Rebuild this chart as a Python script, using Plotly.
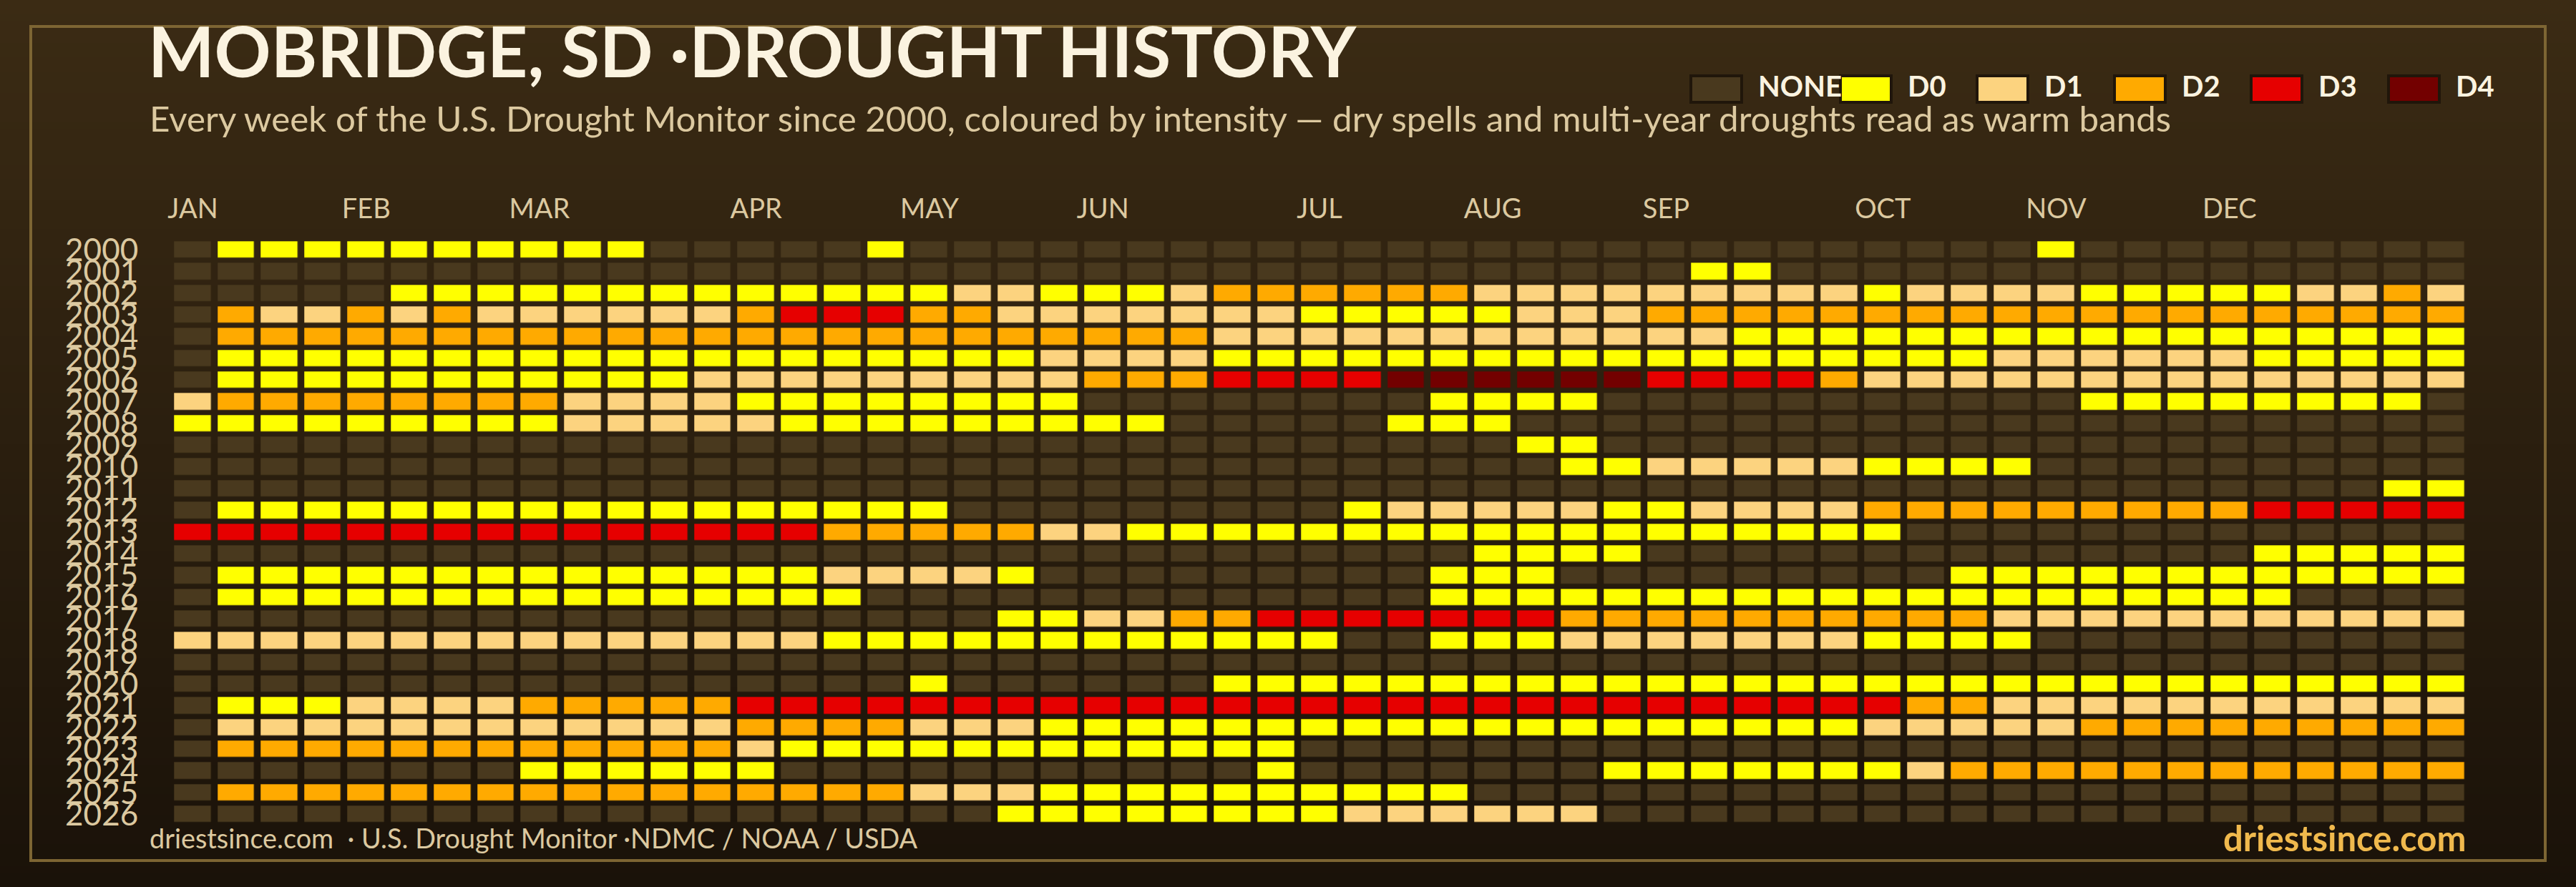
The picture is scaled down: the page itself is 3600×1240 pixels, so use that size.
#! python3
# Mobridge SD drought calendar, one row per year, one cell per week
import plotly.graph_objects as go

W = 3600
H = 1240

years = list(range(2000, 2027))
month_names = ['JAN', 'FEB', 'MAR', 'APR', 'MAY', 'JUN', 'JUL', 'AUG', 'SEP', 'OCT', 'NOV', 'DEC']
month_weeks = [0, 4, 8, 13, 17, 21, 26, 30, 34, 39, 43, 47]
weeks = list(range(53))
level_names = ['NONE', 'D0', 'D1', 'D2', 'D3', 'D4']
level_colors = ['#49391e', '#ffff00', '#fcd37f', '#ffaa00', '#e60000', '#730000']

# 0 = none, 1 = D0 ... 5 = D4
y2000 = [0,1,1,1,1,1,1,1,1,1,1,0,0,0,0,0,1,0,0,0,0,0,0,0,0,0,0,0,0,0,0,0,0,0,0,0,0,0,0,0,0,0,0,1,0,0,0,0,0,0,0,0,0]
y2001 = [0,0,0,0,0,0,0,0,0,0,0,0,0,0,0,0,0,0,0,0,0,0,0,0,0,0,0,0,0,0,0,0,0,0,0,1,1,0,0,0,0,0,0,0,0,0,0,0,0,0,0,0,0]
y2002 = [0,0,0,0,0,1,1,1,1,1,1,1,1,1,1,1,1,1,2,2,1,1,1,2,3,3,3,3,3,3,2,2,2,2,2,2,2,2,2,1,2,2,2,2,1,1,1,1,1,2,2,3,2]
y2003 = [0,3,2,2,3,2,3,2,2,2,2,2,2,3,4,4,4,3,3,2,2,2,2,2,2,2,1,1,1,1,1,2,2,2,3,3,3,3,3,3,3,3,3,3,3,3,3,3,3,3,3,3,3]
y2004 = [0,3,3,3,3,3,3,3,3,3,3,3,3,3,3,3,3,3,3,3,3,3,3,3,2,2,2,2,2,2,2,2,2,2,2,2,1,1,1,1,1,1,1,1,1,1,1,1,1,1,1,1,1]
y2005 = [0,1,1,1,1,1,1,1,1,1,1,1,1,1,1,1,1,1,1,1,2,2,2,2,1,1,1,1,1,1,1,1,1,1,1,1,1,1,1,1,1,1,2,2,2,2,2,2,1,1,1,1,1]
y2006 = [0,1,1,1,1,1,1,1,1,1,1,1,2,2,2,2,2,2,2,2,2,3,3,3,4,4,4,4,5,5,5,5,5,5,4,4,4,4,3,2,2,2,2,2,2,2,2,2,2,2,2,2,2]
y2007 = [2,3,3,3,3,3,3,3,3,2,2,2,2,1,1,1,1,1,1,1,1,0,0,0,0,0,0,0,0,1,1,1,1,0,0,0,0,0,0,0,0,0,0,0,1,1,1,1,1,1,1,1,0]
y2008 = [1,1,1,1,1,1,1,1,1,2,2,2,2,2,1,1,1,1,1,1,1,1,1,0,0,0,0,0,1,1,1,0,0,0,0,0,0,0,0,0,0,0,0,0,0,0,0,0,0,0,0,0,0]
y2009 = [0,0,0,0,0,0,0,0,0,0,0,0,0,0,0,0,0,0,0,0,0,0,0,0,0,0,0,0,0,0,0,1,1,0,0,0,0,0,0,0,0,0,0,0,0,0,0,0,0,0,0,0,0]
y2010 = [0,0,0,0,0,0,0,0,0,0,0,0,0,0,0,0,0,0,0,0,0,0,0,0,0,0,0,0,0,0,0,0,1,1,2,2,2,2,2,1,1,1,1,0,0,0,0,0,0,0,0,0,0]
y2011 = [0,0,0,0,0,0,0,0,0,0,0,0,0,0,0,0,0,0,0,0,0,0,0,0,0,0,0,0,0,0,0,0,0,0,0,0,0,0,0,0,0,0,0,0,0,0,0,0,0,0,0,1,1]
y2012 = [0,1,1,1,1,1,1,1,1,1,1,1,1,1,1,1,1,1,0,0,0,0,0,0,0,0,0,1,2,2,2,2,2,1,1,2,2,2,2,3,3,3,3,3,3,3,3,3,4,4,4,4,4]
y2013 = [4,4,4,4,4,4,4,4,4,4,4,4,4,4,4,3,3,3,3,3,2,2,1,1,1,1,1,1,1,1,1,1,1,1,1,1,1,1,1,1,0,0,0,0,0,0,0,0,0,0,0,0,0]
y2014 = [0,0,0,0,0,0,0,0,0,0,0,0,0,0,0,0,0,0,0,0,0,0,0,0,0,0,0,0,0,0,1,1,1,1,0,0,0,0,0,0,0,0,0,0,0,0,0,0,1,1,1,1,1]
y2015 = [0,1,1,1,1,1,1,1,1,1,1,1,1,1,1,2,2,2,2,1,0,0,0,0,0,0,0,0,0,1,1,1,0,0,0,0,0,0,0,0,0,1,1,1,1,1,1,1,1,1,1,1,1]
y2016 = [0,1,1,1,1,1,1,1,1,1,1,1,1,1,1,1,0,0,0,0,0,0,0,0,0,0,0,0,0,1,1,1,1,1,1,1,1,1,1,1,1,1,1,1,1,1,1,1,1,0,0,0,0]
y2017 = [0,0,0,0,0,0,0,0,0,0,0,0,0,0,0,0,0,0,0,1,1,2,2,3,3,4,4,4,4,4,4,4,3,3,3,3,3,3,3,3,3,3,2,2,2,2,2,2,2,2,2,2,2]
y2018 = [2,2,2,2,2,2,2,2,2,2,2,2,2,2,2,1,1,1,1,1,1,1,1,1,1,1,1,0,0,1,1,1,2,2,2,2,2,2,2,1,1,1,1,0,0,0,0,0,0,0,0,0,0]
y2019 = [0,0,0,0,0,0,0,0,0,0,0,0,0,0,0,0,0,0,0,0,0,0,0,0,0,0,0,0,0,0,0,0,0,0,0,0,0,0,0,0,0,0,0,0,0,0,0,0,0,0,0,0,0]
y2020 = [0,0,0,0,0,0,0,0,0,0,0,0,0,0,0,0,0,1,0,0,0,0,0,0,1,1,1,1,1,1,1,1,1,1,1,1,1,1,1,1,1,1,1,1,1,1,1,1,1,1,1,1,1]
y2021 = [0,1,1,1,2,2,2,2,3,3,3,3,3,4,4,4,4,4,4,4,4,4,4,4,4,4,4,4,4,4,4,4,4,4,4,4,4,4,4,4,3,3,2,2,2,2,2,2,2,2,2,2,2]
y2022 = [0,2,2,2,2,2,2,2,2,2,2,2,2,3,3,3,3,2,2,2,1,1,1,1,1,1,1,1,1,1,1,1,1,1,1,1,1,1,1,2,2,2,2,2,3,3,3,3,3,3,3,3,3]
y2023 = [0,3,3,3,3,3,3,3,3,3,3,3,3,2,1,1,1,1,1,1,1,1,1,1,1,1,0,0,0,0,0,0,0,0,0,0,0,0,0,0,0,0,0,0,0,0,0,0,0,0,0,0,0]
y2024 = [0,0,0,0,0,0,0,0,1,1,1,1,1,1,0,0,0,0,0,0,0,0,0,0,0,1,0,0,0,0,0,0,0,1,1,1,1,1,1,1,2,3,3,3,3,3,3,3,3,3,3,3,3]
y2025 = [0,3,3,3,3,3,3,3,3,3,3,3,3,3,3,3,3,2,2,2,1,1,1,1,1,1,1,1,1,1,0,0,0,0,0,0,0,0,0,0,0,0,0,0,0,0,0,0,0,0,0,0,0]
y2026 = [0,0,0,0,0,0,0,0,0,0,0,0,0,0,0,0,0,0,0,1,1,1,1,1,1,1,1,2,2,2,2,2,2,0,0,0,0,0,0,0,0,0,0,0,0,0,0,0,0,0,0,0,0]

rows = [y2000, y2001, y2002, y2003, y2004, y2005, y2006, y2007, y2008, y2009, y2010, y2011, y2012, y2013,
        y2014, y2015, y2016, y2017, y2018, y2019, y2020, y2021, y2022, y2023, y2024, y2025, y2026]

FONT = 'Lato'
CREAM = '#fbf3e0'
TAN = '#dcc9a0'


def paper_x(px):
    return px / W


def paper_y(px):
    return 1 - px / H


# stepped colorscale so every level is one flat colour
n = len(level_colors)
colorscale = []
for i, c in enumerate(level_colors):
    colorscale.append([i / n, c])
    colorscale.append([(i + 1) / n, c])

fig = go.Figure(go.Heatmap(z=rows, x=weeks, y=years, zmin=0, zmax=n - 1, colorscale=colorscale,
                           xgap=9.5, ygap=7.3, showscale=False, hoverinfo='skip'))

# page background, dark brown fading downwards; each strip runs to the bottom so no seams show
shapes = []
top = (59, 43, 20)
bottom = (26, 18, 9)
strips = 124
for i in range(strips):
    t = i / (strips - 1)
    rgb = [round(a + (b - a) * t) for a, b in zip(top, bottom)]
    shapes.append(dict(type='rect', xref='paper', yref='paper', layer='below', x0=0, x1=1,
                       y0=0, y1=paper_y(i * H / strips),
                       fillcolor='rgb(%d,%d,%d)' % tuple(rgb), line_width=0))

# frame
shapes.append(dict(type='rect', xref='paper', yref='paper', layer='below',
                   x0=paper_x(43), x1=paper_x(3557), y0=paper_y(1203), y1=paper_y(37),
                   line=dict(color='#7d6533', width=4)))

annotations = []


def add_text(text, x, y, size, color, anchor='left', weight=400):
    annotations.append(dict(text=text, xref='paper', yref='paper', x=paper_x(x), y=paper_y(y),
                            xanchor=anchor, yanchor='middle', showarrow=False, borderpad=0,
                            font=dict(family=FONT, size=size, color=color, weight=weight)))


add_text('MOBRIDGE, SD ·DROUGHT HISTORY', 206, 70, 98, CREAM, weight=700)
add_text('Every week of the U.S. Drought Monitor since 2000, coloured by intensity — dry spells and multi-year droughts read as warm bands',
         208, 165, 49.3, TAN)
add_text('driestsince.com  · U.S. Drought Monitor ·NDMC / NOAA / USDA', 208, 1171, 37.8, TAN)
add_text('driestsince.com', 3447, 1171, 49, '#f0b94d', anchor='right', weight=700)

# legend
legend_left = [2361, 2570, 2761, 2953, 3144, 3336]
for name, color, left in zip(level_names, level_colors, legend_left):
    shapes.append(dict(type='rect', xref='paper', yref='paper', x0=paper_x(left + 2), x1=paper_x(left + 73),
                       y0=paper_y(143), y1=paper_y(106), fillcolor=color,
                       line=dict(color='#20160a', width=4)))
    add_text(name, left + 95, 120, 40, CREAM, weight=700)

fig.update_layout(
    width=W, height=H, margin=dict(l=0, r=0, t=0, b=0),
    paper_bgcolor='rgba(0,0,0,0)', plot_bgcolor='rgba(0,0,0,0)',
    shapes=shapes, annotations=annotations, showlegend=False)
fig.update_xaxes(domain=[paper_x(239.2), paper_x(3448.8)], range=[-0.5, 52.5], side='top', tickmode='array',
                 tickvals=month_weeks, ticktext=month_names, ticks='', ticklabelstandoff=21,
                 tickfont=dict(family=FONT, size=38, color=TAN), automargin=False,
                 showgrid=False, zeroline=False, showline=False)
fig.update_yaxes(domain=[paper_y(1153.7), paper_y(334.3)], range=[2026.5, 1999.5], tickmode='array',
                 tickvals=years, ticktext=[str(y) for y in years], ticks='', ticklabelstandoff=45,
                 tickfont=dict(family=FONT, size=44, color=TAN), automargin=False,
                 showgrid=False, zeroline=False, showline=False)

fig.write_html("out.html", post_script="document.body.style.margin='0';", config={'displayModeBar': False})
